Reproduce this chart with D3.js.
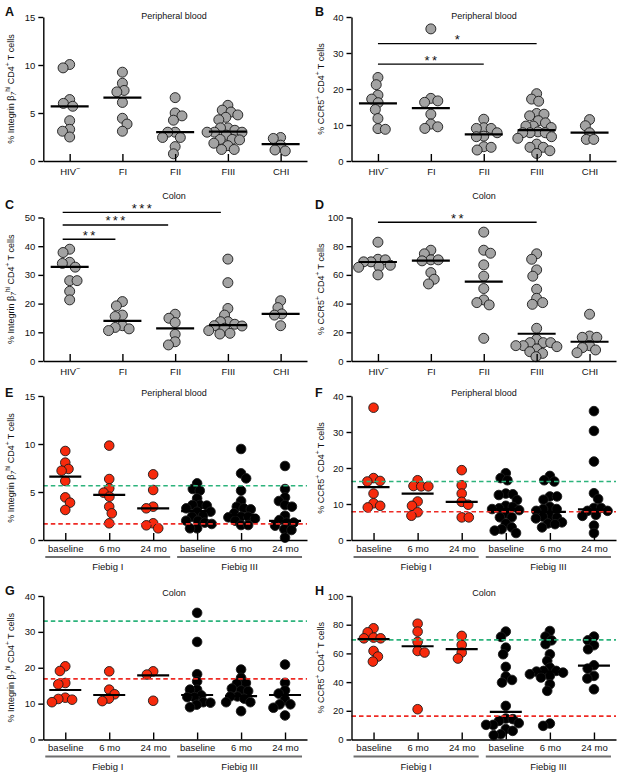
<!DOCTYPE html>
<html lang="en">
<head>
<meta charset="UTF-8">
<title>Integrin β7 and CCR5 on CD4 T cells</title>
<script src="https://d3js.org/d3.v7.min.js"></script>
<style>
  body { margin: 0; background: #fff; }
  svg text { font-family: "Liberation Sans", Arial, Helvetica, sans-serif; fill: #111; }
</style>
</head>
<body>
<div id="chart"></div>
<script>
// categories
const stages = ["HIV-", "FI", "FII", "FIII", "CHI"];
const timepoints = ["baseline", "6 mo", "24 mo", "baseline", "6 mo", "24 mo"];
const cohorts = ["Fiebig I", "Fiebig III"];

// A - peripheral blood, integrin b7hi
const bloodIntegrin = [
  [10.05, 9.7, 6.4, 6.0, 5.7, 4.2, 3.3, 3.1, 2.5],
  [9.25, 8.1, 7.35, 7.2, 6.1, 4.45, 3.85, 3.1],
  [6.6, 5.0, 4.7, 4.25, 3.0, 3.0, 2.45, 2.45, 1.5, 0.75],
  [5.8, 5.3, 5.1, 4.8, 4.55, 4.3, 3.45, 3.45, 3.2, 3.0, 3.0, 3.0, 2.7, 2.25, 2.25, 2.2, 1.85, 1.6, 1.2, 1.2],
  [2.45, 2.35, 1.65, 1.15, 1.05]
];
const bloodIntegrinMedian = [5.7, 6.6, 3.0, 3.05, 1.75];

// B - peripheral blood, CCR5
const bloodCcr5 = [
  [23.2, 21.2, 18.3, 17.2, 16.2, 14.3, 11.8, 9.0, 8.8],
  [36.7, 17.4, 16.7, 16.3, 13.0, 10.25, 9.5, 9.05],
  [11.6, 9.25, 9.05, 9.05, 7.85, 6.9, 6.75, 3.97, 3.8, 3.05],
  [18.7, 17.2, 16.6, 13.2, 13.0, 12.55, 11.2, 10.6, 9.7, 9.7, 9.3, 8.1, 7.85, 7.85, 7.85, 6.75, 6.3, 4.7, 3.8, 3.8, 2.85, 2.1],
  [11.5, 9.8, 7.85, 6.0, 6.0]
];
const bloodCcr5Median = [16.0, 14.7, 7.4, 8.6, 7.9];
const bloodCcr5Sig = [
  { to: "FII", level: 26.9, stars: "**" },
  { to: "FIII", level: 32.6, stars: "*" }
];

// C - colon, integrin b7hi
const colonIntegrin = [
  [38.95, 37.8, 34.4, 34.0, 32.7, 28.0, 28.0, 24.3, 21.3],
  [20.7, 19.2, 16.0, 15.5, 12.3, 11.7, 11.2, 10.6],
  [16.3, 14.9, 13.4, 9.3, 6.7, 5.6],
  [35.5, 27.3, 18.3, 16.0, 13.7, 13.7, 12.8, 12.3, 12.2, 11.4, 10.6, 9.65, 9.4],
  [21.0, 18.6, 16.4, 16.0, 12.3]
];
const colonIntegrinMedian = [32.8, 14.0, 11.4, 12.5, 16.4];
const colonIntegrinSig = [
  { to: "FI", level: 42.4, stars: "**" },
  { to: "FII", level: 47.4, stars: "***" },
  { to: "FIII", level: 51.8, stars: "***" }
];

// D - colon, CCR5
const colonCcr5 = [
  [82.8, 70.9, 70.5, 69.1, 69.1, 66.7, 65.8, 65.3, 60.0],
  [77.2, 74.7, 70.5, 70.5, 69.8, 61.6, 57.0, 53.7],
  [89.8, 77.2, 75.1, 67.0, 59.1, 50.5, 42.6, 40.7, 39.1, 15.8],
  [74.7, 70.9, 63.5, 59.1, 50.0, 43.7, 40.7, 39.5, 22.8, 15.1, 12.8, 12.8, 12.8, 10.7, 10.7, 10.0, 8.4, 6.5, 5.3, 3.0],
  [32.6, 17.4, 16.5, 16.5, 10.7, 9.3, 7.7, 5.8]
];
const colonCcr5Median = [69.0, 70.0, 55.3, 19.0, 13.4];
const colonCcr5Sig = [
  { to: "FIII", level: 96.7, stars: "**" }
];

// E - peripheral blood, integrin b7hi, after ART
const artBloodIntegrin = [
  [9.27, 8.06, 7.4, 7.22, 6.15, 4.44, 3.89, 3.13],
  [9.83, 6.35, 5.38, 4.93, 4.51, 3.47, 2.78, 1.74],
  [6.84, 5.21, 3.47, 3.3, 1.74, 1.53, 1.22],
  [5.9, 5.31, 5.14, 4.34, 3.65, 3.65, 3.58, 3.3, 2.95, 2.95, 2.53, 2.43, 2.01, 2.01, 1.81, 1.67, 1.22, 1.22],
  [9.48, 6.94, 6.42, 5.14, 4.06, 3.47, 3.3, 3.19, 2.78, 2.43, 2.43, 2.36, 2.22, 2.01, 1.56, 1.56],
  [7.71, 5.31, 4.44, 4.06, 3.65, 3.47, 2.53, 2.08, 1.81, 1.81, 1.49, 1.11, 1.04, 0.24]
];
const artBloodIntegrinMedian = [6.6, 4.7, 3.3, 3.0, 2.6, 2.0];
const artBloodIntegrinRef = [5.65, 1.68]; // HIV- median, CHI median

// F - peripheral blood, CCR5, after ART
const artBloodCcr5 = [
  [36.75, 17.2, 16.4, 16.25, 12.9, 10.2, 9.5, 9.05],
  [16.6, 15.0, 14.9, 14.9, 10.7, 9.5, 7.7, 6.74],
  [19.4, 15.2, 12.9, 10.6, 9.8, 6.28, 6.28],
  [18.56, 17.2, 16.6, 12.9, 12.7, 12.5, 11.1, 9.5, 9.2, 8.8, 8.6, 8.3, 7.4, 6.3, 6.3, 4.6, 3.5, 3.0, 2.6, 1.94],
  [17.8, 16.6, 16.25, 12.1, 12.1, 11.2, 9.2, 8.6, 8.6, 8.1, 6.5, 6.5, 6.3, 6.0, 4.9, 4.6, 4.4, 3.5],
  [35.8, 30.3, 21.8, 13.0, 11.4, 8.9, 8.9, 8.1, 8.1, 7.0, 6.7, 4.0, 1.94]
];
const artBloodCcr5Median = [14.7, 12.9, 10.6, 8.6, 7.8, 8.5];
const artBloodCcr5Ref = [16.25, 7.85];

// G - colon, integrin b7hi, after ART
const artColonIntegrin = [
  [20.4, 19.1, 15.75, 15.4, 11.65, 11.3, 11.1, 10.4],
  [19.0, 13.9, 12.6, 11.4, 10.7],
  [19.0, 18.1, 10.8],
  [35.3, 27.2, 18.2, 16.2, 13.9, 13.9, 12.3, 11.8, 11.8, 10.4, 10.25, 9.7, 9.0],
  [19.5, 17.2, 15.75, 15.6, 14.2, 13.7, 13.5, 12.0, 12.0, 11.4, 10.4, 10.4, 7.9],
  [20.9, 15.8, 13.7, 12.8, 11.1, 9.8, 9.8, 8.85, 6.7]
];
const artColonIntegrinMedian = [13.8, 12.4, 17.9, 12.4, 12.1, 12.4];
const artColonIntegrinRef = [33.0, 16.9];

// H - colon, CCR5, after ART
const artColonCcr5 = [
  [77.5, 74.7, 71.0, 70.5, 70.5, 61.7, 57.8, 54.3],
  [80.7, 75.2, 68.0, 61.7, 60.6, 21.1],
  [72.2, 65.9, 60.6, 56.4],
  [75.2, 71.5, 64.0, 59.4, 50.6, 43.9, 41.5, 39.7, 23.4, 14.6, 14.2, 13.0, 11.4, 10.2, 10.2, 7.2, 6.0, 3.7, 3.0],
  [75.6, 71.7, 69.1, 66.4, 59.4, 54.8, 50.1, 47.8, 47.8, 47.3, 46.6, 45.5, 44.3, 43.2, 38.5, 33.9, 11.1, 9.5],
  [71.7, 69.1, 65.7, 62.9, 51.7, 49.4, 44.3, 42.5, 35.0]
];
const artColonCcr5Median = [70.0, 65.0, 63.0, 19.3, 47.3, 51.5];
const artColonCcr5Ref = [69.4, 16.3];

// y axis label pieces
const integrinLabel = [{ t: "% Integrin β" }, { t: "7", sub: true, it: true }, { t: "hi", sup: true }, { t: " CD4" }, { t: "+", sup: true }, { t: " T cells" }];
const ccr5Label = [{ t: "% CCR5" }, { t: "+", sup: true }, { t: " CD4" }, { t: "+", sup: true }, { t: " T cells" }];

// page layout (columns and rows of the panel grid)
const cols = [
  { x0: 43.3, x1: 307, lab: 13.5, letter: 5, title: 174 },
  { x0: 351.5, x1: 616, lab: 323.5, letter: 315, title: 484 }
];
const rows = [
  { top: 17, bottom: 161, title: 18.5, letter: 16 },
  { top: 217.5, bottom: 361, title: 198.5, letter: 209 },
  { top: 396, bottom: 540, title: 396, letter: 396.5 },
  { top: 596, bottom: 739.5, title: 596, letter: 595 }
];

const svg = d3.select("#chart").append("svg")
  .attr("width", 625)
  .attr("height", 775);

// simple beeswarm: put each dot as close to the centre as it can go,
// dots may overlap a bit like in the original
function swarm(vals, y, r) {
  const d = 2 * r * 0.74;
  const placed = [];
  vals.forEach((v, k) => {
    const py = y(v);
    const cands = [0];
    placed.forEach(p => {
      const dy = py - p.y;
      if (Math.abs(dy) < d) {
        const dx = Math.sqrt(d * d - dy * dy);
        cands.push(p.x + dx, p.x - dx);
      }
    });
    // alternate which side wins a tie
    cands.sort((a, b) => Math.abs(a) - Math.abs(b) || (k % 2 ? a - b : b - a));
    const x = cands.find(c => placed.every(p => (p.x - c) ** 2 + (p.y - py) ** 2 >= d * d - 0.01));
    placed.push({ x: x, y: py });
  });
  return placed;
}

function richText(sel, parts) {
  let shift = 0;
  parts.forEach(p => {
    const target = p.sup ? -3.5 : p.sub ? 2 : 0;
    const ts = sel.append("tspan").attr("dy", target - shift).text(p.t);
    if (p.sup || p.sub) ts.attr("font-size", "6.5px");
    if (p.it) ts.attr("font-style", "italic");
    shift = target;
  });
}

function drawPanel(p) {
  const col = cols[p.col], row = rows[p.row];
  const art = p.values.length === 6;
  const g = svg.append("g");
  const x = d3.scalePoint().domain(d3.range(p.values.length)).range([col.x0, col.x1]).padding(0.5);
  const y = d3.scaleLinear().domain([0, d3.max(p.ticks)]).range([row.bottom, row.top]);
  const r = art ? 4.8 : 5;
  const half = art ? 16 : 19;

  // dots
  p.values.forEach((vals, i) => {
    const fill = !art ? "#a3a3a3" : (i < 3 ? "#f72a0c" : "#000");
    g.append("g").selectAll("circle")
      .data(swarm(vals, y, r))
      .join("circle")
      .attr("cx", d => x(i) + d.x)
      .attr("cy", d => d.y)
      .attr("r", r)
      .attr("fill", fill)
      .attr("stroke", "#1a1a1a")
      .attr("stroke-width", 0.9);
  });

  // HIV- and CHI reference medians (dashed)
  if (p.ref) {
    const refColors = ["#2db37c", "#ee2b25"];
    p.ref.forEach((v, i) => {
      g.append("line")
        .attr("x1", col.x0).attr("x2", col.x1)
        .attr("y1", y(v)).attr("y2", y(v))
        .attr("stroke", refColors[i])
        .attr("stroke-width", 1.7)
        .attr("stroke-dasharray", "4.5,3");
    });
  }

  // medians
  g.append("g").selectAll("line")
    .data(p.median)
    .join("line")
    .attr("x1", (d, i) => x(i) - half)
    .attr("x2", (d, i) => x(i) + half)
    .attr("y1", d => y(d)).attr("y2", d => y(d))
    .attr("stroke", "#000")
    .attr("stroke-width", 2.2);

  // axes
  const yAxis = g.append("g")
    .attr("transform", `translate(${col.x0},0)`)
    .call(d3.axisLeft(y).tickValues(p.ticks).tickSize(5).tickSizeOuter(0).tickPadding(3));
  yAxis.attr("font-size", 9.5);
  yAxis.selectAll("path, line").attr("stroke", "#000").attr("stroke-width", 1.4);

  const labels = art ? timepoints : stages;
  const xAxis = g.append("g")
    .attr("transform", `translate(0,${row.bottom})`)
    .call(d3.axisBottom(x).tickSize(-7).tickSizeOuter(0).tickPadding(art ? 5 : 7).tickFormat(i => labels[i]));
  xAxis.attr("font-size", 9.5);
  xAxis.selectAll("path, line").attr("stroke", "#000").attr("stroke-width", 1.4);
  xAxis.selectAll(".tick text").each(function (i) {
    if (labels[i] === "HIV-") {
      const t = d3.select(this).text("HIV");
      t.append("tspan").attr("dy", -3.5).attr("font-size", "7px").text("−");
    }
  });

  // cohort brackets under the time points
  if (art) {
    cohorts.forEach((c, k) => {
      const a = x(k * 3) - 20, b = x(k * 3 + 2) + 17;
      g.append("line")
        .attr("x1", a).attr("x2", b)
        .attr("y1", row.bottom + 17).attr("y2", row.bottom + 17)
        .attr("stroke", "#6e6e6e").attr("stroke-width", 2);
      g.append("text")
        .attr("x", (a + b) / 2).attr("y", row.bottom + 30)
        .attr("text-anchor", "middle")
        .attr("font-size", 9.5)
        .text(c);
    });
  }

  // significance bars
  if (p.sig) {
    p.sig.forEach(s => {
      const a = x(0) + (p.sigShift || 0), b = x(stages.indexOf(s.to)) + (p.sigShift || 0);
      g.append("line")
        .attr("x1", a).attr("x2", b)
        .attr("y1", y(s.level)).attr("y2", y(s.level))
        .attr("stroke", "#000").attr("stroke-width", 1.4);
      g.append("text")
        .attr("x", (a + b) / 2 + 1.2).attr("y", y(s.level) + 0.5)
        .attr("text-anchor", "middle")
        .attr("font-size", 13)
        .attr("letter-spacing", 2.4)
        .text(s.stars);
    });
  }

  // y label
  const yl = g.append("text")
    .attr("transform", `translate(${col.lab},${(row.top + row.bottom) / 2}) rotate(-90)`)
    .attr("text-anchor", "middle")
    .attr("font-size", 9);
  richText(yl, p.label);

  // title + panel letter
  g.append("text")
    .attr("x", col.title).attr("y", row.title)
    .attr("text-anchor", "middle")
    .attr("font-size", 9)
    .text(p.title);
  g.append("text")
    .attr("x", col.letter).attr("y", row.letter)
    .attr("font-size", 12.5)
    .attr("font-weight", "bold")
    .text(p.letter);
}

const panels = [
  { letter: "A", col: 0, row: 0, title: "Peripheral blood", values: bloodIntegrin, median: bloodIntegrinMedian, ticks: [0, 5, 10, 15], label: integrinLabel },
  { letter: "B", col: 1, row: 0, title: "Peripheral blood", values: bloodCcr5, median: bloodCcr5Median, ticks: [0, 10, 20, 30, 40], label: ccr5Label, sig: bloodCcr5Sig },
  { letter: "C", col: 0, row: 1, title: "Colon", values: colonIntegrin, median: colonIntegrinMedian, ticks: [0, 10, 20, 30, 40, 50], label: integrinLabel, sig: colonIntegrinSig, sigShift: -7 },
  { letter: "D", col: 1, row: 1, title: "Colon", values: colonCcr5, median: colonCcr5Median, ticks: [0, 20, 40, 60, 80, 100], label: ccr5Label, sig: colonCcr5Sig },
  { letter: "E", col: 0, row: 2, title: "Peripheral blood", values: artBloodIntegrin, median: artBloodIntegrinMedian, ref: artBloodIntegrinRef, ticks: [0, 5, 10, 15], label: integrinLabel },
  { letter: "F", col: 1, row: 2, title: "Peripheral blood", values: artBloodCcr5, median: artBloodCcr5Median, ref: artBloodCcr5Ref, ticks: [0, 10, 20, 30, 40], label: ccr5Label },
  { letter: "G", col: 0, row: 3, title: "Colon", values: artColonIntegrin, median: artColonIntegrinMedian, ref: artColonIntegrinRef, ticks: [0, 10, 20, 30, 40], label: integrinLabel },
  { letter: "H", col: 1, row: 3, title: "Colon", values: artColonCcr5, median: artColonCcr5Median, ref: artColonCcr5Ref, ticks: [0, 20, 40, 60, 80, 100], label: ccr5Label }
];

panels.forEach(drawPanel);
</script>
</body>
</html>
